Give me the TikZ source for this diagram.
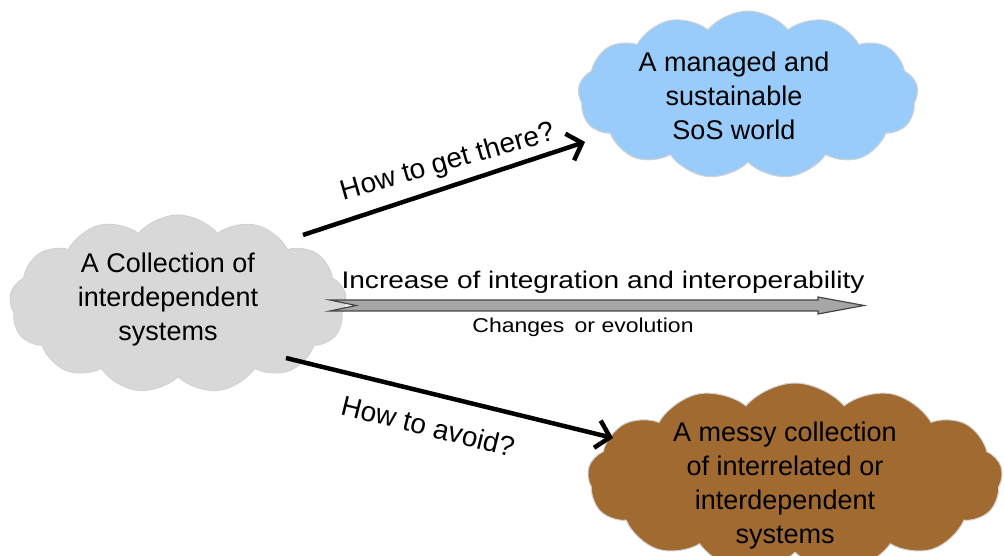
\documentclass[tikz,border=0pt]{standalone}
\usepackage{fontspec}
\setmainfont{Liberation Sans}
\usetikzlibrary{shapes.symbols,arrows.meta}
\definecolor{cgray}{RGB}{216,216,216}
\definecolor{cblue}{RGB}{153,204,250}
\definecolor{cbrown}{RGB}{160,106,48}
\definecolor{aline}{RGB}{70,70,70}
\definecolor{afill}{RGB}{166,166,166}
\tikzset{
  cloudbox/.style={cloud, cloud puffs=13, cloud puff arc=100, aspect=2, draw=gray!35, line width=1pt, inner sep=0pt},
  cloudtext/.style={align=center, font=\fontsize{27}{34}\selectfont, inner sep=0pt},
  bigarrow/.style={line width=4.5pt, draw=black, -{Straight Barb[length=13pt,width=28pt,line width=4.5pt]}},
  arrowlabel/.style={font=\fontsize{28}{32}\selectfont, inner sep=0pt},
  midlabel/.style={font=\fontsize{24}{28}\selectfont, inner sep=0pt, xscale=1.17},
  sublabel/.style={font=\fontsize{20}{22}\selectfont, inner sep=0pt, xscale=1.15}
}
\begin{document}
\begin{tikzpicture}[x=1pt,y=1pt]
\clip (0,0) rectangle (1004,556);
\useasboundingbox (0,0) rectangle (1004,556);
\fill[white] (0,0) rectangle (1004,556);
% clouds
\node[cloudbox, fill=cgray, minimum width=337pt, minimum height=178pt] (gray) at (178,252) {};
\node[cloudbox, fill=cblue, minimum width=340pt, minimum height=168pt] (blue) at (748,461) {};
\node[cloudbox, fill=cbrown, minimum width=415pt, minimum height=190pt] (brown) at (795,78) {};
% cloud texts
\node[cloudtext] (grayt) at (168,256) {A Collection of\\interdependent\\systems};
\node[cloudtext] (bluet) at (734,460) {A managed and\\sustainable\\SoS world};
\node[cloudtext] (brownt) at (785,70) {A messy collection\\of interrelated or\\interdependent\\systems};
% connector ends
\coordinate (g1) at (303,321);
\coordinate (b1) at (585,414);
\coordinate (g2) at (286,198);
\coordinate (r2) at (613,118);
\draw[bigarrow] (g1) -- (b1);
\draw[bigarrow] (g2) -- (r2);
% middle block arrow
\coordinate (mt) at (330,256);
\coordinate (mn) at (356,250.5);
\coordinate (mb) at (330,245);
\coordinate (hb) at (818,245);
\coordinate (hbb) at (818,242);
\coordinate (tip) at (864,250.5);
\coordinate (htt) at (818,259);
\coordinate (ht) at (818,256);
\draw[fill=afill, draw=aline, line width=1.2pt, line join=miter]
  (mt) -- (mn) -- (mb) -- (hb) -- (hbb) -- (tip) -- (htt) -- (ht) -- cycle;
% labels
\node[arrowlabel, rotate=16] (l1) at (448,393) {How to get there?};
\node[arrowlabel, rotate=-14] (l2) at (428,130) {How to avoid?};
\node[midlabel] (l3) at (603,274) {Increase of integration and interoperability};
\node[sublabel] (l4) at (583,229) {Changes\, or evolution};
\end{tikzpicture}
\end{document}
